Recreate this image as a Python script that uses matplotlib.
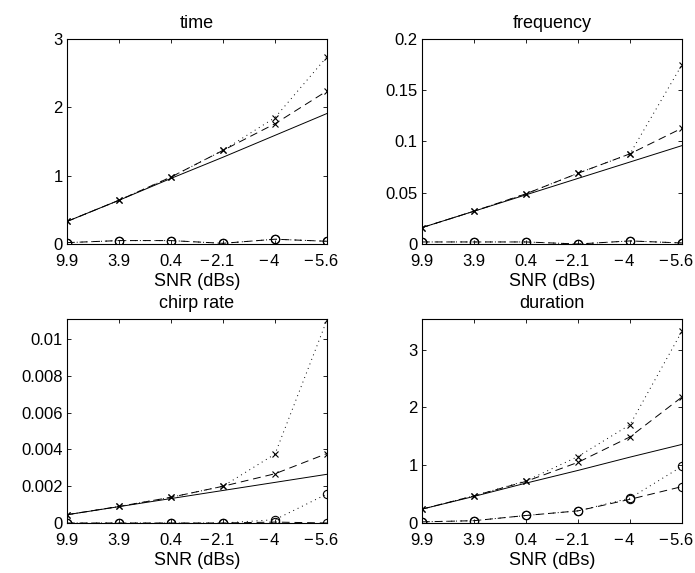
import matplotlib
matplotlib.use("Agg")
import matplotlib.pyplot as plt
import matplotlib.transforms as mtransforms
import numpy as np

snr_labels = ["9.9", "3.9", "0.4", "\u2212\u200a2.1", "\u2212\u200a4", "\u2212\u200a5.6"]

titles = ["time", "frequency", "chirp rate", "duration"]

# time
time_bound = [0.33, 0.64, 0.96, 1.27, 1.59, 1.91]
time_x_dashed = [0.33, 0.64, 0.98, 1.37, 1.76, 2.24]
time_x_dotted = [0.33, 0.64, 0.98, 1.37, 1.85, 2.74]
time_o_dashed = [0.02, 0.05, 0.05, 0.01, 0.07, 0.04]
time_o_dotted = [0.02, 0.05, 0.05, 0.01, 0.07, 0.04]

# frequency
freq_bound = [0.016, 0.032, 0.048, 0.064, 0.080, 0.096]
freq_x_dashed = [0.016, 0.032, 0.049, 0.069, 0.088, 0.113]
freq_x_dotted = [0.016, 0.032, 0.049, 0.069, 0.088, 0.175]
freq_o_dashed = [0.002, 0.002, 0.002, 0.0, 0.003, 0.001]
freq_o_dotted = [0.002, 0.002, 0.002, 0.0, 0.003, 0.001]

# chirp rate
chirp_bound = [0.00045, 0.00089, 0.00133, 0.00177, 0.00221, 0.00265]
chirp_x_dashed = [0.00045, 0.00090, 0.00140, 0.00200, 0.00268, 0.00378]
chirp_x_dotted = [0.00045, 0.00090, 0.00140, 0.00200, 0.00375, 0.01105]
chirp_o_dashed = [0.0, 0.0, 0.0, 0.0, 0.00005, 0.0]
chirp_o_dotted = [0.0, 0.0, 0.0, 0.0, 0.00018, 0.00158]

# duration
dur_bound = [0.24, 0.46, 0.69, 0.91, 1.14, 1.36]
dur_x_dashed = [0.24, 0.47, 0.72, 1.05, 1.49, 2.18]
dur_x_dotted = [0.24, 0.47, 0.73, 1.15, 1.70, 3.32]
dur_o_dashed = [0.02, 0.04, 0.13, 0.21, 0.41, 0.63]
dur_o_dotted = [0.02, 0.04, 0.13, 0.21, 0.43, 0.98]

panels = [
    (time_bound, time_x_dashed, time_x_dotted, time_o_dashed, time_o_dotted, 3.0, [0, 1, 2, 3], ["0", "1", "2", "3"]),
    (freq_bound, freq_x_dashed, freq_x_dotted, freq_o_dashed, freq_o_dotted, 0.2, [0, 0.05, 0.1, 0.15, 0.2], ["0", "0.05", "0.1", "0.15", "0.2"]),
    (chirp_bound, chirp_x_dashed, chirp_x_dotted, chirp_o_dashed, chirp_o_dotted, 0.0111, [0, 0.002, 0.004, 0.006, 0.008, 0.01], ["0", "0.002", "0.004", "0.006", "0.008", "0.01"]),
    (dur_bound, dur_x_dashed, dur_x_dotted, dur_o_dashed, dur_o_dotted, 3.53, [0, 1, 2, 3], ["0", "1", "2", "3"]),
]

plt.rcParams['font.family'] = ['Liberation Sans', 'DejaVu Sans']

fig = plt.figure(figsize=(6.95, 5.73), dpi=100)
W, H = 695.0, 573.0
rects = [(67, 39, 327, 244), (422, 39, 682, 244), (67, 319, 327, 523), (422, 319, 682, 523)]

TICK_FS = 12
x = np.arange(1, 7)
dotted = (0, (1, 4))
dashed = (0, (8, 5))
renderer = fig.canvas.get_renderer()


def text_width_px(s):
    t = fig.text(0, 0, s, fontsize=TICK_FS)
    w = t.get_window_extent(renderer=renderer).width
    t.remove()
    return w


for i, (rect, p) in enumerate(zip(rects, panels)):
    l, t, r, b = rect
    ax = fig.add_axes([l / W, 1 - b / H, (r - l) / W, (b - t) / H])
    bound, xd, xdot, od, odot, ytop, yt, ytl = p
    lw = 0.7
    ax.plot(x, bound, '-', color='black', lw=lw)
    ax.plot(x, xdot, linestyle=dotted, color='black', lw=lw, marker='x', ms=5, mew=0.8)
    ax.plot(x, xd, linestyle=dashed, color='black', lw=lw, marker='x', ms=5, mew=0.8)
    ax.plot(x, odot, linestyle=dotted, color='black', lw=lw, marker='o', ms=6, mfc='none', mew=0.8)
    ax.plot(x, od, linestyle=dashed, color='black', lw=lw, marker='o', ms=6, mfc='none', mew=0.8)
    ax.set_xlim(1, 6)
    ax.set_ylim(0, ytop)
    ax.set_xticks(x)
    ax.set_xticklabels(snr_labels)
    ax.set_yticks(yt)
    ax.set_yticklabels(ytl)
    ax.tick_params(direction='in', length=3, width=0.6, top=True, right=True,
                   labelsize=TICK_FS)
    ax.tick_params(axis='x', pad=7)
    ax.tick_params(axis='y', pad=3)
    for s in ax.spines.values():
        s.set_linewidth(0.8)
    ax.set_title(titles[i], fontsize=13, pad=8)
    ax.set_xlabel("SNR (dBs)", fontsize=13, labelpad=3)
    # MATLAB-style: numeric part centred on the tick, minus sign hanging left
    for lab in ax.get_xticklabels():
        s = lab.get_text()
        if s.startswith("\u2212"):
            num = s.lstrip("\u2212\u200a")
            dx = (text_width_px(s) - text_width_px(num)) / 2.0
            shift = mtransforms.ScaledTranslation(-dx / fig.dpi, 0, fig.dpi_scale_trans)
            lab.set_transform(lab.get_transform() + shift)

fig.savefig("out.png", dpi=100)
